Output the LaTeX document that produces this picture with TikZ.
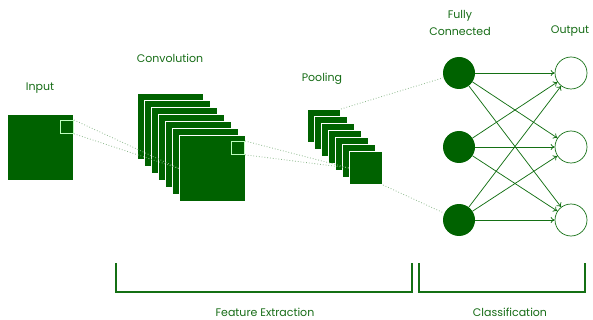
\documentclass[tikz,border=0pt]{standalone}
\usepackage{fontspec}
\setmainfont{Poppins}
\usetikzlibrary{arrows.meta}
\definecolor{cnngreen}{RGB}{0,98,0}
\definecolor{labelgreen}{RGB}{22,108,22}
\definecolor{linegreen}{RGB}{20,112,20}

\begin{document}
\begin{tikzpicture}[x=1pt,y=-1pt,
  every node/.style={font=\fontsize{11}{17}\selectfont,text=labelgreen},
  bigsq/.style={draw=white,fill=cnngreen,line width=1pt,minimum size=66pt,inner sep=0pt,anchor=north west},
  smallsq/.style={draw=white,fill=cnngreen,line width=1pt,minimum size=33pt,inner sep=0pt,anchor=north west},
  field/.style={draw=green!25!white,line width=0.8pt,minimum size=13pt,inner sep=0pt,anchor=north east},
  neuron/.style={circle,fill=cnngreen,minimum size=32pt,inner sep=0pt},
  outneuron/.style={circle,draw=linegreen,fill=white,line width=0.7pt,minimum size=32pt,inner sep=0pt},
  proj/.style={dotted,draw=cnngreen!45,line width=0.8pt},
  link/.style={draw=linegreen,line width=0.75pt,-{To[length=4pt,width=6pt]}},
  brace/.style={draw=linegreen,line width=1.4pt}]
  \useasboundingbox (0,0) rectangle (593,320);

  % input image
  \node[bigsq] (in) at (7,114) {};
  \node[field] (infield) at (74,120) {};
  \node (inlabel) at (40,88) {Input};

  % convolution layers
  \foreach \i in {0,...,6}
    \node[bigsq] (c\i) at (137+7*\i,93+7*\i) {};
  \draw[proj] (infield.north east) -- (c6.west);
  \draw[proj] (infield.south east) -- (c6.west);
  \node[field] (convfield) at (245,141) {};
  \node (convlabel) at (170,58) {Convolution};

  % pooling layers
  \foreach \i in {0,...,6}
    \node[smallsq] (p\i) at (307+7*\i,109+7*\i) {};
  \draw[proj] (convfield.north east) -- (p6.west);
  \draw[proj] (convfield.south east) -- (p6.west);
  \node (poollabel) at (322,79) {Pooling};

  % fully connected and output
  \node[neuron] (f1) at (459,73) {};
  \node[neuron] (f2) at (459,147) {};
  \node[neuron] (f3) at (459,220) {};
  \node[outneuron] (o1) at (571,73) {};
  \node[outneuron] (o2) at (571,147) {};
  \node[outneuron] (o3) at (571,220) {};
  \draw[proj] (p0.north east) -- (f1);
  \draw[proj] (p6.south east) -- (f3);
  \foreach \a in {1,2,3}
    \foreach \b in {1,2,3}
      \draw[link] (f\a) -- (o\b);
  \node[align=center] (fclabel) at (460,23) {Fully\\Connected};
  \node (outlabel) at (570,31) {Output};

  % brackets
  \draw[brace] (116,263) |- (412,292) -- (412,263);
  \draw[brace] (419,263) |- (585,292) -- (585,263);
  \node (featlabel) at (265,312) {Feature Extraction};
  \node (classlabel) at (510,312) {Classification};
\end{tikzpicture}
\end{document}
